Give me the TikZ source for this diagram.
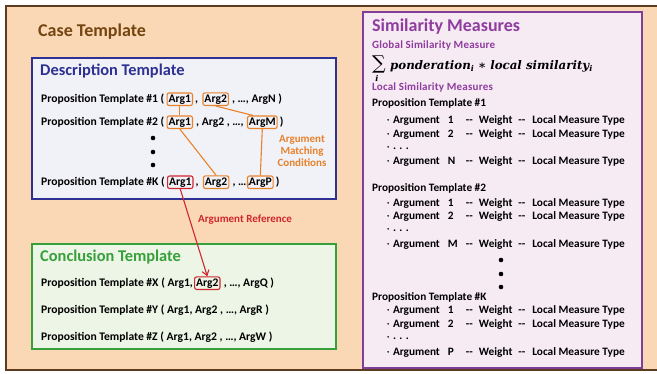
\documentclass[tikz,border=0pt]{standalone}
\usepackage{fontspec}
\setmainfont{Carlito}
\newfontfamily\formulafont{DejaVu Serif}
\newfontfamily\headfont[LetterSpace=2]{Carlito}
\usetikzlibrary{positioning, arrows.meta, calc}
\usepackage{xcolor}
\definecolor{casepeach}{HTML}{FAD8B6}
\definecolor{casebrown}{HTML}{74450F}
\definecolor{framebrown}{HTML}{5C3B1F}
\definecolor{descblue}{HTML}{2E3192}
\definecolor{descfill}{HTML}{F1F1F8}
\definecolor{conclgreen}{HTML}{36A03A}
\definecolor{conclfill}{HTML}{EDF5E6}
\definecolor{simpurple}{HTML}{7E3F98}
\definecolor{simtitle}{HTML}{8E3C9E}
\definecolor{simfill}{HTML}{F6EAF3}
\definecolor{argorange}{HTML}{E8822A}
\definecolor{refred}{HTML}{D0262E}

% one line of a local similarity measure
\newcommand{\mdot}{\raisebox{2.2pt}{\tikz\fill (0,0) circle (0.9pt);}}
\newcommand{\measline}[1]{\mdot\hspace{4pt}\makebox[73pt][l]{Argument\hspace{8pt}#1}-{}-\hspace{6pt}Weight\hspace{6pt}-{}-\hspace{7pt}Local Measure Type}
\newcommand{\subi}{\raisebox{-2.5pt}{\fontsize{8}{8}\selectfont i}}

\begin{document}
\begin{tikzpicture}[x=1pt, y=-1pt,
    panel/.style={line width=1.8pt, anchor=north west, inner sep=0pt},
    bigtitle/.style={font=\fontsize{18}{21}\selectfont\bfseries, anchor=west, inner sep=0pt},
    boxtitle/.style={font=\fontsize{16.4}{19}\selectfont\bfseries, anchor=west, inner sep=0pt},
    subtitle/.style={font=\headfont\fontsize{11}{13}\selectfont\bfseries, text=simtitle, anchor=west, inner sep=0pt},
    prop/.style={font=\fontsize{11.6}{13}\selectfont\bfseries, anchor=base west, inner sep=0pt},
    arg/.style={draw=argorange, line width=1.1pt, rounded corners=2pt, inner xsep=1.5pt, inner ysep=1.5pt,
                font=\fontsize{11.6}{13}\selectfont\bfseries, anchor=base west},
    match/.style={draw=argorange, line width=1.1pt},
    measure/.style={font=\fontsize{11.3}{13}\selectfont\bfseries, anchor=west, inner sep=0pt},
    bigdot/.style={circle, fill=black, inner sep=0pt, minimum size=4.6pt}]
  \useasboundingbox (0,0) rectangle (657,373);
  \draw[framebrown, fill=casepeach, line width=1.5pt] (6,6) rectangle (670,370);
  \node[bigtitle, text=casebrown] (casetitle) at (38,32) {Case Template};

  % description template
  \node[panel, draw=descblue, fill=descfill, minimum width=304, minimum height=141] (descbox) at (31,57) {};
  \node[boxtitle, text=descblue] (desctitle) at (40,71) {Description Template};

  \node[prop] (d1) at (41,102) {Proposition Template \#1 (};
  \node[arg] (d1a) at ([xshift=2pt]d1.base east) {Arg1};
  \node[prop] (d1s) at ([xshift=2pt]d1a.base east) {,};
  \node[arg] (d1b) at ([xshift=4pt]d1s.base east) {Arg2};
  \node[prop] (d1e) at ([xshift=3pt]d1b.base east) {, …, ArgN )};

  \node[prop] (d2) at (41,125) {Proposition Template \#2 (};
  \node[arg] (d2a) at ([xshift=2pt]d2.base east) {Arg1};
  \node[prop] (d2s) at ([xshift=3pt]d2a.base east) {, Arg2 , …,};
  \node[arg] (d2m) at ([xshift=3pt]d2s.base east) {ArgM};
  \node[prop] (d2e) at ([xshift=2pt]d2m.base east) {)};

  \node[bigdot] (ddot1) at (153,138) {};
  \node[bigdot] (ddot2) at (153,152) {};
  \node[bigdot] (ddot3) at (153,165) {};

  \node[prop] (dk) at (41,185) {Proposition Template \#K (};
  \node[arg, draw=refred] (dka) at ([xshift=2pt]dk.base east) {Arg1};
  \node[prop] (dks) at ([xshift=2pt]dka.base east) {,};
  \node[arg] (dkb) at ([xshift=4pt]dks.base east) {Arg2};
  \node[prop] (dkd) at ([xshift=3pt]dkb.base east) {, …,};
  \node[arg] (dkp) at (d2m.base west |- dk.base) {ArgP};
  \node[prop] (dke) at ([xshift=2pt]dkp.base east) {)};

  \node[font=\fontsize{11}{12}\selectfont\bfseries, text=argorange, align=center] (matchlabel) at (302,151) {Argument\\Matching\\Conditions};

  \draw[match] (d1a.south) -- (d2a.north);
  \draw[match] (d1b.south) -- ($(d2m.north west)!0.2!(d2m.north east)$);
  \draw[match] (d2a.south) -- (dkb.north);
  \draw[match] (d2m.south) -- (dkp.north);

  % conclusion template
  \node[panel, draw=conclgreen, fill=conclfill, minimum width=304, minimum height=105] (conclbox) at (31,243) {};
  \node[boxtitle, text=conclgreen] (concltitle) at (40,257) {Conclusion Template};

  \node[prop] (cx) at (41,286) {Proposition Template \#X ( Arg1,};
  \node[arg, draw=refred] (cxb) at ([xshift=1pt]cx.base east) {Arg2};
  \node[prop] (cxe) at ([xshift=3pt]cxb.base east) {, …, ArgQ )};
  \node[prop] (cy) at (41,313) {Proposition Template \#Y ( Arg1, Arg2 , …, ArgR )};
  \node[prop] (cz) at (41,340) {Proposition Template \#Z ( Arg1, Arg2 , …, ArgW )};

  \draw[refred, line width=1.1pt, -{Straight Barb[length=5pt, width=7pt]}] (dka.south) -- (cxb.north);
  \node[font=\fontsize{11}{13}\selectfont\bfseries, text=refred, anchor=west, inner sep=0pt] (reflabel) at (198,220) {Argument Reference};

  % similarity measures
  \node[panel, draw=simpurple, fill=simfill, minimum width=279, minimum height=356] (simbox) at (362,11) {};
  \node[bigtitle, text=simtitle] (simtitle) at (372,27) {Similarity Measures};
  \node[subtitle] (global) at (372,46) {Global Similarity Measure};
  \node[inner sep=0pt, font=\formulafont\fontsize{19}{19}\selectfont] (sumsign) at (379,64) {∑};
  \node[inner sep=0pt, font=\formulafont\bfseries\itshape\fontsize{8}{8}\selectfont] (sumindex) at (377,78) {i};
  \node[anchor=base west, inner sep=0pt, font=\formulafont\bfseries\itshape\fontsize{11.8}{14}\selectfont] (formula) at (390,69)
    {ponderation\subi\ ∗ local similarity\subi};
  \node[subtitle] (local) at (372,88) {Local Similarity Measures};

  \node[measure] (s1) at (372,103) {Proposition Template \#1};
  \node[measure] (s1a) at (387,120) {\measline{1}};
  \node[measure] (s1b) at (387,134) {\measline{2}};
  \node[measure] (s1c) at (387,148) {\mdot\hspace{4pt}. . .};
  \node[measure] (s1n) at (387,161) {\measline{N}};

  \node[measure] (s2) at (372,188) {Proposition Template \#2};
  \node[measure] (s2a) at (387,203) {\measline{1}};
  \node[measure] (s2b) at (387,216) {\measline{2}};
  \node[measure] (s2c) at (387,230) {\mdot\hspace{4pt}. . .};
  \node[measure] (s2m) at (387,244) {\measline{M}};

  \node[bigdot] (sdot1) at (501,260) {};
  \node[bigdot] (sdot2) at (501,274) {};
  \node[bigdot] (sdot3) at (501,287) {};

  \node[measure] (sk) at (372,297) {Proposition Template \#K};
  \node[measure] (ska) at (387,310) {\measline{1}};
  \node[measure] (skb) at (387,324) {\measline{2}};
  \node[measure] (skc) at (387,338) {\mdot\hspace{4pt}. . .};
  \node[measure] (skp) at (387,352) {\measline{P}};
\end{tikzpicture}
\end{document}
